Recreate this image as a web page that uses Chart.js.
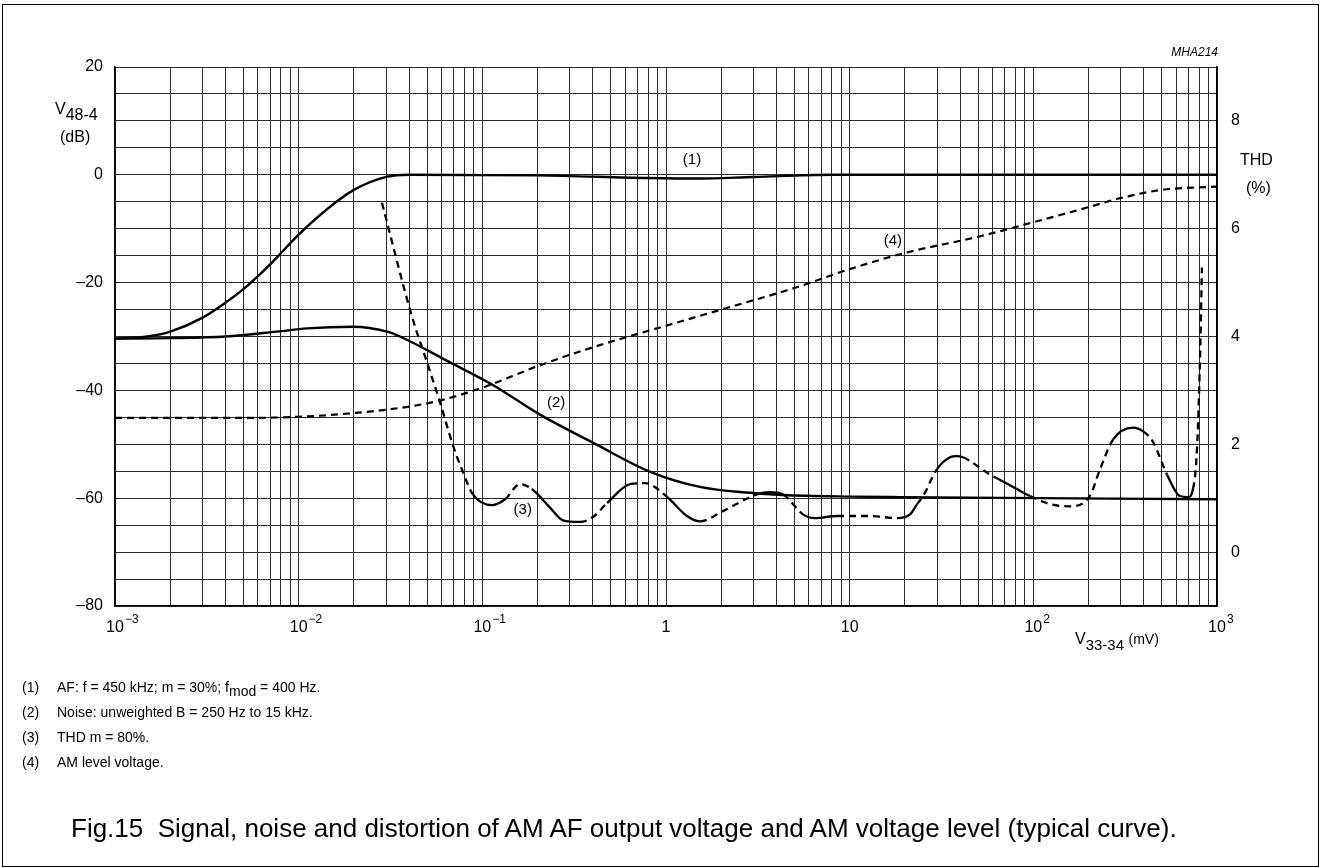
<!DOCTYPE html>
<html>
<head>
<meta charset="utf-8">
<script src="https://cdn.jsdelivr.net/npm/chart.js@4.4.1/dist/chart.umd.min.js"></script>
<style>
html, body { margin: 0; padding: 0; background: #fff; }
body { width: 1322px; height: 868px; position: relative; overflow: hidden; font-family: "Liberation Sans", Arial, sans-serif; color: #000; }
#frame { position: absolute; left: 2px; top: 4px; width: 1317px; height: 863px; border: 1.5px solid #000; box-sizing: border-box; }
#chart { position: absolute; left: 0; top: 0; }
.t { position: absolute; white-space: nowrap; line-height: 1; }
.ax { font-size: 16px; }
.ax sub { font-size: 16px; vertical-align: -6px; line-height: 0; }
.ax sup { font-size: 14px; vertical-align: 0; line-height: 0; }
.note { font-size: 14px; }
.note span.n { position: absolute; left: 0; }
.note span.tx { position: absolute; left: 35px; }
.note sub { font-size: 14px; vertical-align: -4px; line-height: 0; }
#caption { font-size: 26px; left: 71px; top: 815px; }
#code { font-size: 12px; font-style: italic; right: 104px; top: 46px; }
</style>
</head>
<body>
<div id="frame"></div>
<canvas id="chart" width="1322" height="868"></canvas>

<div class="t" id="code">MHA214</div>
<div class="t ax" style="left:55px; top:101px;">V<sub>48-4</sub></div>
<div class="t ax" style="left:60px; top:129px;">(dB)</div>
<div class="t ax" style="left:1240px; top:152px;">THD</div>
<div class="t ax" style="left:1246px; top:180px;">(%)</div>
<div class="t ax" style="left:1075px; top:631px;">V<sub style="font-size:15px">33-34</sub> <sup>(mV)</sup></div>

<div class="t note" style="left:22px; top:680px;"><span class="n">(1)</span><span class="tx">AF: f = 450 kHz; m = 30%; f<sub>mod</sub> = 400 Hz.</span></div>
<div class="t note" style="left:22px; top:705px;"><span class="n">(2)</span><span class="tx">Noise: unweighted B = 250 Hz to 15 kHz.</span></div>
<div class="t note" style="left:22px; top:730px;"><span class="n">(3)</span><span class="tx">THD m = 80%.</span></div>
<div class="t note" style="left:22px; top:755px;"><span class="n">(4)</span><span class="tx">AM level voltage.</span></div>

<div class="t" id="caption">Fig.15&nbsp; Signal, noise and distortion of AM AF output voltage and AM voltage level (typical curve).</div>

<script>
// (1) AF output, dB
const afX = [0.001, 0.0015, 0.002, 0.003, 0.004, 0.005, 0.007, 0.01, 0.015, 0.02, 0.03, 0.04, 0.2, 0.8, 1.5, 3, 8, 1000];
const afY = [-30.4, -30, -29.1, -26.5, -23.7, -21.2, -16.6, -11.1, -5.8, -2.8, -0.4, 0, -0.1, -0.6, -0.7, -0.4, 0, 0];

// (2) noise, dB
const noiseX = [0.001, 0.002, 0.004, 0.0076, 0.0111, 0.0198, 0.0303, 0.0356, 0.0667, 0.114, 0.206, 0.40, 0.82, 1.53, 2.87, 4.33, 10, 18.8, 1000];
const noiseY = [-30.4, -30.3, -30, -29.1, -28.5, -28.2, -29.1, -30, -34.8, -39, -44.5, -49.7, -55.1, -57.9, -59, -59.4, -59.7, -59.8, -60.2];

// (3) THD, %
const thdX = [0.0284, 0.0414, 0.050, 0.0588, 0.0692, 0.0785, 0.0889, 0.113, 0.133, 0.160, 0.186, 0.233, 0.275, 0.34, 0.40, 0.478, 0.637, 0.769, 1.01, 1.30, 1.53, 2.04, 3.13, 3.68, 4.33, 5.57, 6.47, 8.53, 12.9, 18.1, 21.3, 23.3, 25.1, 29.9, 35.2, 38.3, 41.4, 58.0, 63.4, 79.4, 95.9, 123, 158, 203, 231, 272, 349, 396, 449, 534, 628, 695, 740, 778, 808, 828];
const thdY = [6.48, 4.37, 3.52, 2.78, 1.98, 1.48, 1.07, 0.87, 0.98, 1.26, 1.17, 0.83, 0.59, 0.56, 0.65, 0.91, 1.26, 1.28, 1.03, 0.67, 0.57, 0.76, 1.07, 1.11, 1.07, 0.70, 0.63, 0.67, 0.67, 0.63, 0.70, 0.89, 1.04, 1.54, 1.76, 1.78, 1.76, 1.44, 1.37, 1.19, 1.04, 0.89, 0.85, 1.04, 1.54, 2.09, 2.31, 2.24, 2.04, 1.44, 1.04, 1.02, 1.17, 1.91, 3.57, 5.28];

// (4) AM level voltage, dB
const levelX = [0.001, 0.005, 0.01, 0.02, 0.04, 0.06, 0.1, 0.2, 0.4, 1, 2, 5, 10, 20, 50, 100, 200, 300, 500, 1000];
const levelY = [-45.1, -45.1, -44.9, -44.2, -43, -41.8, -39.5, -35.5, -32, -28, -25, -21, -17.5, -14.5, -11.5, -8.8, -6, -4.3, -2.8, -2.2];

// axis ticks
const decades = [-3, -2, -1, 0, 1, 2, 3];
const dbLabels = [20, 0, -20, -40, -60, -80];
const thdLabels = [0, 2, 4, 6, 8];

// parts of the THD trace that are drawn solid in the original
const thdSolid = [[0.0889, 0.133], [0.186, 0.34], [0.478, 0.637], [1.01, 1.53], [3.13, 4.33], [5.57, 8.53], [18.1, 23.3], [29.9, 41.4], [63.4, 95.9], [272, 396], [534, 740]];

const curveLabels = [
    { text: '(1)', x: 1.385, y: 2.8, axis: 'y' },
    { text: '(2)', x: 0.252, y: -42.3, axis: 'y' },
    { text: '(3)', x: 0.166, y: -62.2, axis: 'y' },
    { text: '(4)', x: 17.2, y: -12.2, axis: 'y' }
];

const FONT = '"Liberation Sans", Arial, sans-serif';

function toPoints(xs, ys) {
    return xs.map((x, i) => ({ x: x, y: ys[i] }));
}

function dbText(v) {
    return v < 0 ? '\u2013' + Math.abs(v) : String(v);
}

function inSolid(a, b) {
    const mid = Math.sqrt(a * b);
    return thdSolid.some(s => mid >= s[0] && mid <= s[1]);
}

const gridTicks = [];
decades.forEach(e => {
    for (let m = 1; m <= 9; m++) {
        const v = m * Math.pow(10, e);
        if (v <= 1000.0001) gridTicks.push(v);
    }
});

const labelsPlugin = {
    id: 'labelsPlugin',
    afterDraw(chart) {
        const ctx = chart.ctx;
        const xs = chart.scales.x;
        ctx.save();
        ctx.fillStyle = '#000';
        ctx.textBaseline = 'alphabetic';

        decades.forEach(e => {
            const px = xs.getPixelForValue(Math.pow(10, e));
            ctx.font = '16px ' + FONT;
            if (e === 0 || e === 1) {
                ctx.textAlign = 'center';
                ctx.fillText(e === 0 ? '1' : '10', px, 632);
                return;
            }
            const base = '10';
            const w = ctx.measureText(base).width;
            ctx.textAlign = 'left';
            ctx.fillText(base, px - w / 2, 632);
            ctx.font = '12px ' + FONT;
            const sup = e < 0 ? '\u2212' + Math.abs(e) : String(e);
            ctx.fillText(sup, px + w / 2 + 1, 623);
        });

        ctx.font = '15px ' + FONT;
        ctx.textAlign = 'center';
        ctx.textBaseline = 'middle';
        curveLabels.forEach(l => {
            const px = xs.getPixelForValue(l.x);
            const py = chart.scales[l.axis].getPixelForValue(l.y);
            ctx.fillStyle = '#fff';
            ctx.fillRect(px - 11, py - 8, 22, 16);
            ctx.fillStyle = '#000';
            ctx.fillText(l.text, px, py);
        });
        ctx.restore();
    }
};

const gridColor = '#2a2a2a';

new Chart(document.getElementById('chart'), {
    type: 'line',
    data: {
        datasets: [
            {
                data: toPoints(afX, afY),
                yAxisID: 'y',
                borderColor: '#000',
                borderWidth: 2.4,
                cubicInterpolationMode: 'monotone'
            },
            {
                data: toPoints(noiseX, noiseY),
                yAxisID: 'y',
                borderColor: '#000',
                borderWidth: 2.4,
                cubicInterpolationMode: 'monotone'
            },
            {
                data: toPoints(levelX, levelY),
                yAxisID: 'y',
                borderColor: '#000',
                borderWidth: 2.2,
                borderDash: [7, 5],
                cubicInterpolationMode: 'monotone'
            },
            {
                data: toPoints(thdX, thdY),
                yAxisID: 'y2',
                borderColor: '#000',
                borderWidth: 2.3,
                cubicInterpolationMode: 'monotone',
                segment: {
                    borderDash: c => inSolid(c.p0.parsed.x, c.p1.parsed.x) ? [] : [7, 5]
                }
            }
        ]
    },
    options: {
        responsive: false,
        animation: false,
        layout: { padding: { top: 67, left: 0, right: 0, bottom: 0 } },
        elements: { point: { radius: 0 } },
        plugins: { legend: { display: false }, tooltip: { enabled: false } },
        scales: {
            x: {
                type: 'logarithmic',
                min: 0.001,
                max: 1000,
                afterBuildTicks: s => { s.ticks = gridTicks.map(v => ({ value: v })); },
                afterFit: s => { s.height = 262; },
                ticks: { display: false, autoSkip: false },
                grid: { color: gridColor, lineWidth: 1, drawTicks: false },
                border: { color: '#000', width: 1.5 }
            },
            y: {
                position: 'left',
                min: -80,
                max: 20,
                afterFit: s => { s.width = 115; },
                ticks: {
                    stepSize: 5,
                    autoSkip: false,
                    padding: 12,
                    color: '#000',
                    font: { family: FONT, size: 16 },
                    callback: v => dbLabels.includes(v) ? dbText(v) : ''
                },
                grid: { color: gridColor, lineWidth: 1, drawTicks: false },
                border: { color: '#000', width: 1.5 }
            },
            y2: {
                position: 'right',
                min: -1,
                max: 9,
                afterFit: s => { s.width = 105; },
                ticks: {
                    stepSize: 1,
                    autoSkip: false,
                    padding: 14,
                    color: '#000',
                    font: { family: FONT, size: 16 },
                    callback: v => thdLabels.includes(v) ? String(v) : ''
                },
                grid: { display: false, drawTicks: false },
                border: { color: '#000', width: 1.5 }
            }
        }
    },
    plugins: [labelsPlugin]
});
</script>
</body>
</html>
